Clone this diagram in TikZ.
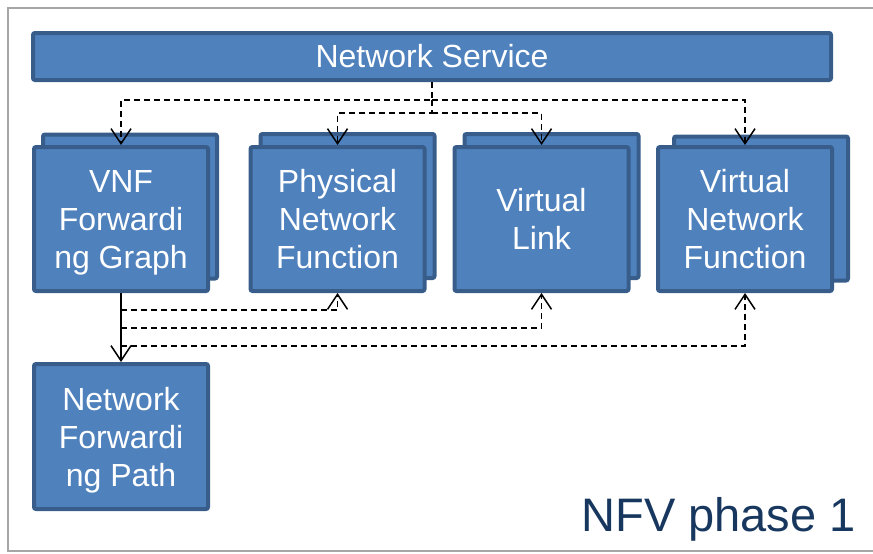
\documentclass[tikz,border=0pt]{standalone}
\usepackage{fontspec}
\setmainfont{Liberation Sans}
\usetikzlibrary{arrows.meta}
\definecolor{boxfill}{HTML}{4F81BD}
\definecolor{boxline}{HTML}{385D8A}
\definecolor{phasetext}{HTML}{17375E}
\definecolor{framegray}{HTML}{A6A6A6}

\begin{document}
\begin{tikzpicture}[x=1pt,y=-1pt,
  box/.style={draw=boxline,fill=boxfill,line width=4pt,rounded corners=2pt,inner sep=0pt,outer sep=2pt,
    minimum width=174pt,minimum height=144pt,text=white,align=center,font=\fontsize{32}{38}\selectfont},
  dep/.style={dash pattern=on 6pt off 4pt,line width=1.5pt,-{Straight Barb[length=15pt,width=20pt]}},
  link/.style={line width=1.5pt,-{Straight Barb[length=15pt,width=20pt]}}]

\useasboundingbox (0,0) rectangle (873,554);
\draw[framegray,line width=2pt] (8,8) rectangle (890,551);

\path (432,56.5) node[box,minimum width=798pt,minimum height=47pt](ns){Network Service};

% stacked copies behind
\path (130,206.5) node[box](fgb){} (347.5,206) node[box](pnfb){} (551.5,206) node[box](vlb){} (761,208.5) node[box](vnfb){};
\path (121,219) node[box](fg){VNF\\Forwardi\\\smash{ng Graph}} (337.5,219) node[box](pnf){Physical\\Network\\Function}
  (541.5,219) node[box](vl){Virtual\\Link} (745,219) node[box](vnf){Virtual\\Network\\Function};
\path (121,436.5) node[box,minimum height=145pt](nfp){Network\\Forwardi\\\smash{ng Path}};

% from the service
\coordinate (ns1) at (432,100);
\coordinate (ns2) at (432,113);
\draw[dep] (ns.south) -- (ns1) -| (fg.north);
\draw[dep] (ns1) -| (vnf.north);
\draw[dep] (ns1) -- (ns2) -| (pnf.north);
\draw[dep] (ns2) -| (vl.north);

% from the graph
\draw[link] (fg.south) -- (nfp.north);
\coordinate (fg1) at (121,310);
\coordinate (fg2) at (121,328);
\coordinate (fg3) at (121,346);
\draw[dep] (fg1) -| (pnf.south);
\draw[dep] (fg2) -| (vl.south);
\draw[dep] (fg3) -| (vnf.south);

\node[anchor=base east,inner sep=0pt,text=phasetext,font=\fontsize{47}{56}\selectfont](phase) at (856,531){NFV phase 1};
\end{tikzpicture}
\end{document}
